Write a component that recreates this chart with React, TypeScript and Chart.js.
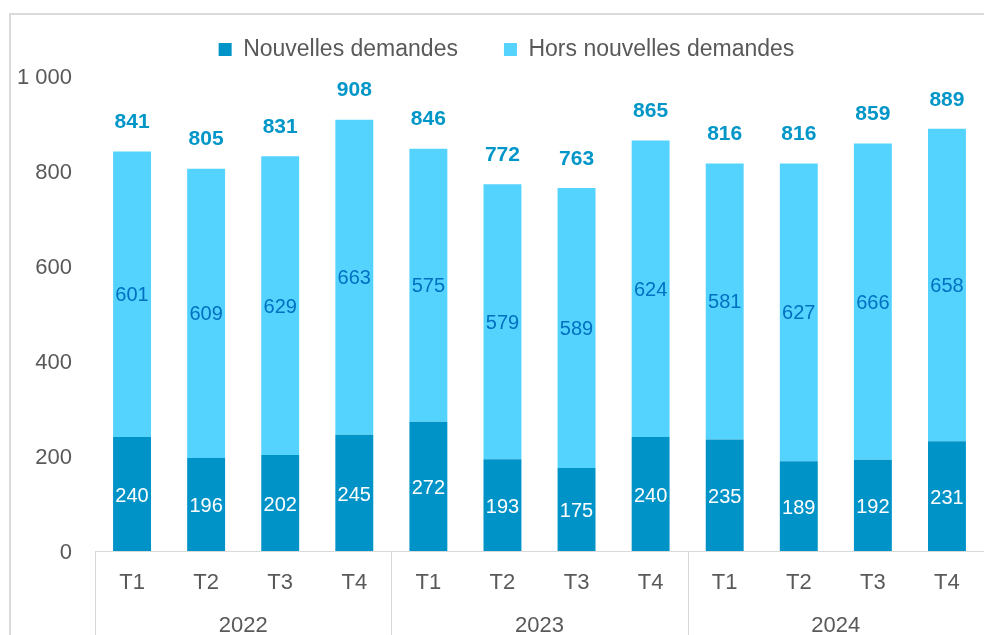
import React, { useEffect, useRef } from 'react';
import { Chart, registerables } from 'chart.js';

Chart.register(...registerables);

const quarters = ['T1', 'T2', 'T3', 'T4', 'T1', 'T2', 'T3', 'T4', 'T1', 'T2', 'T3', 'T4'];
const years = ['2022', '2023', '2024'];
const nouvellesDemandes = [240, 196, 202, 245, 272, 193, 175, 240, 235, 189, 192, 231];
const horsNouvellesDemandes = [601, 609, 629, 663, 575, 579, 589, 624, 581, 627, 666, 658];
const totals = [841, 805, 831, 908, 846, 772, 763, 865, 816, 816, 859, 889];
const yTicks = [0, 200, 400, 600, 800, 1000];

const FONT = "'Liberation Sans', Arial, sans-serif";
const DARK = '#0093C8';
const LIGHT = '#55D3FF';
const GRID = '#D9D9D9';
const TEXT = '#595959';

const fmt = (v: number) => String(v).replace(/\B(?=(\d{3})+(?!\d))/g, ' ');

const framePlugin = {
  id: 'frame',
  beforeDraw(chart: any) {
    const ctx = chart.ctx;
    ctx.save();
    ctx.strokeStyle = GRID;
    ctx.lineWidth = 2;
    ctx.strokeRect(10, 14, chart.width + 20, chart.height + 20);
    ctx.restore();
  },
};

const separatorPlugin = {
  id: 'separators',
  afterDraw(chart: any) {
    const xs = chart.scales.x;
    const ctx = chart.ctx;
    const cw = xs.width / quarters.length;
    ctx.save();
    ctx.strokeStyle = GRID;
    ctx.lineWidth = 1;
    for (let i = 0; i <= quarters.length; i += 4) {
      const px = Math.round(xs.left + i * cw) + 0.5;
      ctx.beginPath();
      ctx.moveTo(px, xs.top);
      ctx.lineTo(px, chart.height);
      ctx.stroke();
    }
    ctx.restore();
  },
};

const labelPlugin = {
  id: 'barLabels',
  afterDatasetsDraw(chart: any) {
    const ctx = chart.ctx;
    const m0 = chart.getDatasetMeta(0);
    const m1 = chart.getDatasetMeta(1);
    ctx.save();
    ctx.textAlign = 'center';
    ctx.textBaseline = 'middle';
    ctx.font = `20px ${FONT}`;
    ctx.fillStyle = '#FFFFFF';
    m0.data.forEach((bar: any, i: number) => {
      const p = bar.getProps(['x', 'y', 'base'], true);
      ctx.fillText(String(nouvellesDemandes[i]), p.x, (p.y + p.base) / 2 + 2.5);
    });
    ctx.fillStyle = '#0070C0';
    m1.data.forEach((bar: any, i: number) => {
      const p = bar.getProps(['x', 'y', 'base'], true);
      ctx.fillText(String(horsNouvellesDemandes[i]), p.x, (p.y + p.base) / 2 + 1.5);
    });
    ctx.font = `bold 21px ${FONT}`;
    ctx.fillStyle = '#0096C8';
    m1.data.forEach((bar: any, i: number) => {
      const p = bar.getProps(['x', 'y'], true);
      ctx.fillText(String(totals[i]), p.x, p.y - 29);
    });
    ctx.restore();
  },
};

export default function App() {
  const ref = useRef<HTMLCanvasElement>(null);

  useEffect(() => {
    if (!ref.current) return;
    const chart = new Chart(ref.current, {
      type: 'bar',
      data: {
        labels: quarters,
        datasets: [
          {
            label: 'Nouvelles demandes',
            data: nouvellesDemandes,
            backgroundColor: DARK,
            borderWidth: 0,
            barPercentage: 0.512,
            categoryPercentage: 1,
          },
          {
            label: 'Hors nouvelles demandes',
            data: horsNouvellesDemandes,
            backgroundColor: LIGHT,
            borderWidth: 0,
            barPercentage: 0.512,
            categoryPercentage: 1,
          },
        ],
      },
      options: {
        responsive: false,
        animation: false,
        layout: { padding: { left: 28, right: -1, top: -8, bottom: 0 } },
        plugins: {
          legend: {
            display: true,
            position: 'top',
            align: 'center',
            labels: {
              boxWidth: 13,
              boxHeight: 13,
              padding: 46,
              color: TEXT,
              font: { family: FONT, size: 23 },
            },
          },
          subtitle: {
            display: true,
            text: '',
            position: 'top',
            weight: 500,
            padding: 0,
            font: { size: 5, lineHeight: 1 },
          } as any,
          title: { display: false },
          tooltip: { enabled: false },
        },
        scales: {
          x: {
            type: 'category',
            stacked: true,
            position: 'bottom',
            grid: { display: false, drawTicks: false },
            border: { display: true, color: GRID, width: 1 },
            ticks: { color: TEXT, font: { family: FONT, size: 22 }, padding: 19, maxRotation: 0, autoSkip: false },
            afterFit: (s: any) => { s.height = 48; },
          },
          x2: {
            type: 'category',
            labels: years,
            position: 'bottom',
            weight: 1,
            offset: true,
            grid: { display: false, drawTicks: false },
            border: { display: false },
            ticks: { color: TEXT, font: { family: FONT, size: 22 }, padding: 14, maxRotation: 0, autoSkip: false },
            afterFit: (s: any) => { s.height = 36; },
          },
          y: {
            stacked: true,
            min: 0,
            max: 1000,
            grid: { display: false, drawTicks: false },
            border: { display: false },
            ticks: {
              color: TEXT,
              font: { family: FONT, size: 22 },
              mirror: true,
              crossAlign: 'far',
              padding: -78,
              labelOffset: 2,
              callback: (v: any) => fmt(Number(v)),
            },
            afterBuildTicks: (s: any) => { s.ticks = yTicks.map((v) => ({ value: v })); },
            afterFit: (s: any) => { s.width = 67; },
          },
        },
      } as any,
      plugins: [framePlugin, separatorPlugin, labelPlugin],
    });
    return () => chart.destroy();
  }, []);

  return (
    <div style={{ position: 'fixed', left: 0, top: 0, width: 984, height: 635, background: '#FFFFFF' }}>
      <canvas ref={ref} width={984} height={635} style={{ display: 'block' }} />
    </div>
  );
}
